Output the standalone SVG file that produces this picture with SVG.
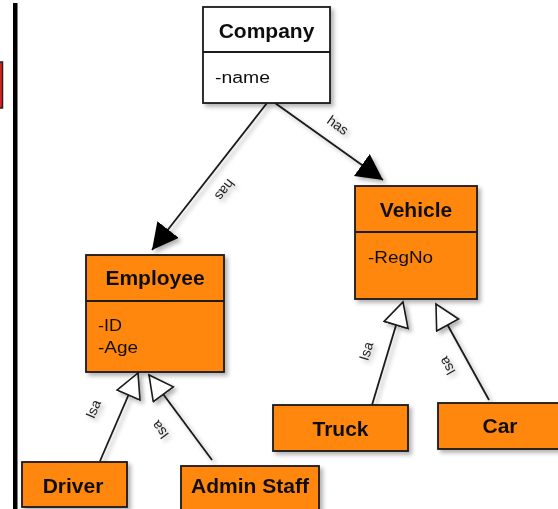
<svg xmlns="http://www.w3.org/2000/svg" width="558" height="509" viewBox="0 0 558 509">
  <style>
    .box { fill: #FF870F; stroke: #1a1a1a; stroke-width: 1.8; }
    .wbox { fill: #ffffff; stroke: #1a1a1a; stroke-width: 1.8; }
    .div { stroke: #1a1a1a; stroke-width: 1.8; }
    .title { font-family: "Liberation Sans", Arial, sans-serif; font-size: 21px; font-weight: bold; fill: #111; text-anchor: middle; }
    .attr { font-family: "Liberation Sans", Arial, sans-serif; font-size: 16px; fill: #111; }
    .lbl { font-family: "Liberation Sans", Arial, sans-serif; font-size: 14px; fill: #222; text-anchor: middle; dominant-baseline: central; }
    .edge { fill: none; stroke: #1a1a1a; stroke-width: 1.8; }
  </style>
  <defs>
    <filter id="sh" x="-20%" y="-20%" width="150%" height="150%">
      <feDropShadow dx="3" dy="3" stdDeviation="2.2" flood-color="#000" flood-opacity="0.3"/>
    </filter>
    <marker id="filled" markerUnits="userSpaceOnUse" markerWidth="28" markerHeight="28" refX="26" refY="13.5" orient="auto">
      <path d="M0,0 L26,13.5 L0,27 z" fill="#000"/>
    </marker>
    <marker id="hollow" markerUnits="userSpaceOnUse" markerWidth="28" markerHeight="28" refX="25" refY="13.5" orient="auto">
      <path d="M1,1 L25,13.5 L1,26 z" fill="#fff" stroke="#1a1a1a" stroke-width="1.6"/>
    </marker>
  </defs>

  <!-- left border and clipped red shape -->
  <rect x="-10" y="62" width="12.5" height="46" fill="#E0201E" stroke="#222" stroke-width="1.5"/>
  <rect x="13" y="3" width="4.5" height="510" fill="#000"/>

  <g id="connectors" filter="url(#sh)">
    <line class="edge" x1="267" y1="103" x2="152" y2="250" marker-end="url(#filled)"/>
    <line class="edge" x1="275" y1="103" x2="383" y2="180" marker-end="url(#filled)"/>
    <line class="edge" x1="100" y1="461" x2="138" y2="373" marker-end="url(#hollow)"/>
    <line class="edge" x1="212" y1="460" x2="149" y2="375" marker-end="url(#hollow)"/>
    <line class="edge" x1="372" y1="405" x2="403" y2="302" marker-end="url(#hollow)"/>
    <line class="edge" x1="489" y1="400" x2="436" y2="304" marker-end="url(#hollow)"/>
    <text class="lbl" transform="translate(225,190) rotate(128)">has</text>
    <text class="lbl" transform="translate(338,125) rotate(35.5)">has</text>
    <text class="lbl" transform="translate(93,409) rotate(-67)">Isa</text>
    <text class="lbl" transform="translate(160,430) rotate(-126.5)">Isa</text>
    <text class="lbl" transform="translate(366,351) rotate(-73)">Isa</text>
    <text class="lbl" transform="translate(447,366) rotate(-119)">Isa</text>
  </g>

  <g id="company" filter="url(#sh)">
    <rect class="wbox" x="203" y="7" width="127" height="96"/>
    <line class="div" x1="203" y1="52" x2="330" y2="52"/>
    <text class="title" x="266.5" y="38">Company</text>
    <text class="attr" x="215" y="83" textLength="55" lengthAdjust="spacingAndGlyphs">-name</text>
  </g>

  <g id="employee" filter="url(#sh)">
    <rect class="box" x="86" y="255" width="138" height="117"/>
    <line class="div" x1="86" y1="301" x2="224" y2="301"/>
    <text class="title" x="155" y="285">Employee</text>
    <text class="attr" x="98" y="331" textLength="24" lengthAdjust="spacingAndGlyphs">-ID</text>
    <text class="attr" x="98" y="353" textLength="40" lengthAdjust="spacingAndGlyphs">-Age</text>
  </g>

  <g id="vehicle" filter="url(#sh)">
    <rect class="box" x="355" y="186" width="122" height="113"/>
    <line class="div" x1="355" y1="232" x2="477" y2="232"/>
    <text class="title" x="416" y="217">Vehicle</text>
    <text class="attr" x="368" y="263" textLength="65" lengthAdjust="spacingAndGlyphs">-RegNo</text>
  </g>

  <g id="driver" filter="url(#sh)">
    <rect class="box" x="22" y="462" width="105" height="45"/>
    <text class="title" x="73" y="493">Driver</text>
  </g>

  <g id="adminstaff" filter="url(#sh)">
    <rect class="box" x="181" y="466" width="138" height="45"/>
    <text class="title" x="250" y="493">Admin Staff</text>
  </g>

  <g id="truck" filter="url(#sh)">
    <rect class="box" x="273" y="405" width="135" height="46"/>
    <text class="title" x="340.5" y="436">Truck</text>
  </g>

  <g id="car" filter="url(#sh)">
    <rect class="box" x="438" y="403" width="124" height="46"/>
    <text class="title" x="500" y="433">Car</text>
  </g>
</svg>
